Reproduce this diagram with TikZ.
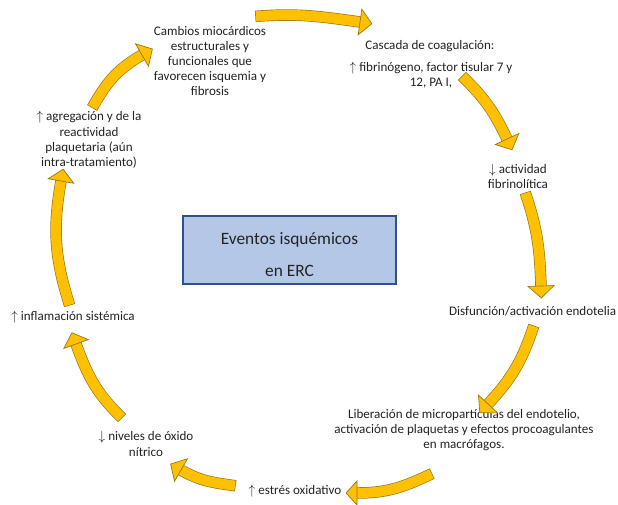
\documentclass[tikz,border=0pt]{standalone}
\usepackage{fontspec}
\setmainfont{Carlito}

\definecolor{arrowfill}{RGB}{255,192,0}
\definecolor{arrowline}{RGB}{150,118,20}
\definecolor{boxfill}{RGB}{180,199,231}
\definecolor{boxline}{RGB}{47,82,143}
\definecolor{txtcol}{RGB}{35,35,35}

\tikzset{
  txt/.style={inner sep=0.75pt, align=center, text=txtcol, font=\fontsize{9.8}{11.4}\selectfont},
  band/.style={draw=arrowline, line width=0.5pt, double=arrowfill, double distance=7.6pt, line cap=rect},
  headtri/.style={draw=arrowline, fill=arrowfill, line width=0.5pt, line join=miter},
  evbox/.style={draw=boxline, fill=boxfill, line width=1.1pt, minimum width=160pt, minimum height=51pt,
    align=center, text=txtcol, font=\fontsize{13}{24}\selectfont}
}
\newcommand{\lowered}[1]{\raisebox{-3.75pt}[\height][\depth]{#1}}

\begin{document}
\begin{tikzpicture}[x=0.75pt,y=0.75pt,yscale=-1,xscale=1]
\useasboundingbox (0,0) rectangle (618,504);
% Text Node
\draw (210,61) node [txt] (cambios) {Cambios miocárdicos\\estructurales y\\funcionales que\\favorecen isquemia y\\fibrosis};
% Text Node
\draw (430,46) node [txt] (cascada) {Cascada de coagulación:};
% Text Node
\draw (431,75) node [txt] (fibrino) {$\uparrow$ fibrinógeno, factor tisular 7 y\\12, PA I,};
% Text Node
\draw (518,176.5) node [txt] (actfib) {$\downarrow$ actividad\\fibrinolítica};
% Text Node
\draw (617.5,311) node [txt, anchor=east] (disfun) {Disfunción/activación endotelia};
% Text Node
\draw (464,430) node [txt] (liberac) {Liberación de micropartículas del endotelio,\\activación de plaquetas y efectos procoagulantes\\en macrófagos.};
% Text Node
\draw (295,491) node [txt] (estres) {$\uparrow$ estrés oxidativo};
% Text Node
\draw (146,444) node [txt] (niveles) {$\downarrow$ niveles de óxido\\nítrico};
% Text Node
\draw (73,317) node [txt] (inflam) {$\uparrow$ inflamación sistémica};
% Text Node
\draw (89,140) node [txt] (agreg) {$\uparrow$ agregación y de la\\reactividad\\plaquetaria (aún\\intra-tratamiento)};
% Rectangle
\draw (289.5,250) node [evbox] (eventos) {\lowered{Eventos isquémicos}\\\lowered{en ERC}};

% arrow ends
\coordinate (a1s) at (261,16);  \coordinate (a1m) at (360,22);
\coordinate (a2s) at (466,80);  \coordinate (a2m) at (507,139);
\coordinate (a3s) at (527,198); \coordinate (a3m) at (541,286);
\coordinate (a4s) at (532,331); \coordinate (a4m) at (488,404);
\coordinate (a5s) at (427,476); \coordinate (a5m) at (357,493);
\coordinate (a6s) at (230,485); \coordinate (a6m) at (181,470);
\coordinate (a7s) at (118,414); \coordinate (a7m) at (76,344);
\coordinate (a8s) at (68,300);  \coordinate (a8m) at (61,181);
\coordinate (a9s) at (95,103);  \coordinate (a9m) at (142,55);

%Curved Arrow: cambios -> cascada
\draw [band] (a1s) to [out=-4,in=188] (a1m);
\draw [headtri] ([shift={(98:13)}]a1m) -- ([shift={(8:12)}]a1m) -- ([shift={(-82:13)}]a1m) -- cycle;
%Curved Arrow: fibrino -> actfib
\draw [band] (a2s) to [out=45,in=245] (a2m);
\draw [headtri] ([shift={(155:13)}]a2m) -- ([shift={(65:12)}]a2m) -- ([shift={(-25:13)}]a2m) -- cycle;
%Curved Arrow: actfib -> disfun
\draw [band] (a3s) to [out=72,in=268] (a3m);
\draw [headtri] ([shift={(178:13)}]a3m) -- ([shift={(88:12)}]a3m) -- ([shift={(-2:13)}]a3m) -- cycle;
%Curved Arrow: disfun -> liberac
\draw [band] (a4s) to [out=109,in=313] (a4m);
\draw [headtri] ([shift={(223:13)}]a4m) -- ([shift={(133:12)}]a4m) -- ([shift={(43:13)}]a4m) -- cycle;
%Curved Arrow: liberac -> estres
\draw [band] (a5s) to [out=155,in=0] (a5m);
\draw [headtri] ([shift={(270:12)}]a5m) -- ([shift={(180:11)}]a5m) -- ([shift={(90:12)}]a5m) -- cycle;
%Curved Arrow: estres -> niveles
\draw [band] (a6s) to [out=188,in=30] (a6m);
\draw [headtri] ([shift={(300:13)}]a6m) -- ([shift={(210:12)}]a6m) -- ([shift={(120:13)}]a6m) -- cycle;
%Curved Arrow: niveles -> inflam
\draw [band] (a7s) to [out=225,in=70] (a7m);
\draw [headtri] ([shift={(340:13)}]a7m) -- ([shift={(250:12)}]a7m) -- ([shift={(160:13)}]a7m) -- cycle;
%Curved Arrow: inflam -> agreg
\draw [band] (a8s) to [out=253,in=100] (a8m);
\draw [headtri] ([shift={(10:13)}]a8m) -- ([shift={(280:12)}]a8m) -- ([shift={(190:13)}]a8m) -- cycle;
%Curved Arrow: agreg -> cambios
\draw [band] (a9s) to [out=-60,in=150] (a9m);
\draw [headtri] ([shift={(60:13)}]a9m) -- ([shift={(-30:12)}]a9m) -- ([shift={(-120:13)}]a9m) -- cycle;
\end{tikzpicture}
\end{document}
